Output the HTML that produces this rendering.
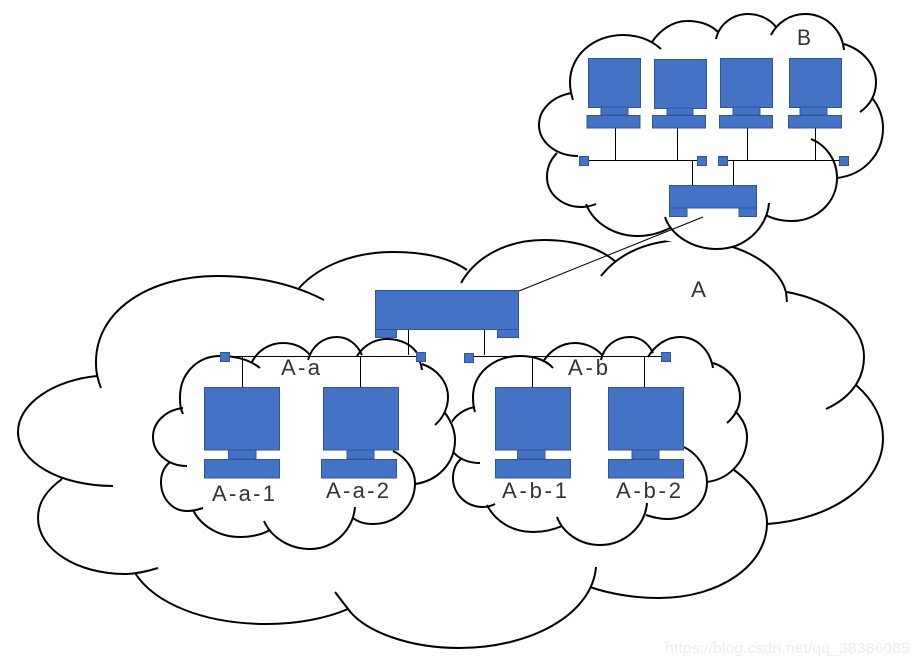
<!DOCTYPE html>
<html>
<head>
<meta charset="utf-8">
<style>
html,body{margin:0;padding:0;background:#fff;}
svg{display:block;}
.c{fill:#fff;stroke:#000;stroke-width:2;stroke-linecap:butt;}
.f{fill:#fff;stroke:none;}
.b{fill:#4472c4;stroke:#2f5597;stroke-width:1;}
.l{stroke:#000;stroke-width:1;fill:none;}
text{font-family:"Liberation Sans",sans-serif;font-size:22px;fill:#333;}
</style>
</head>
<body>
<svg width="918" height="666" viewBox="0 0 918 666" xmlns="http://www.w3.org/2000/svg">
<rect width="918" height="666" fill="#fff"/>

<!-- Cloud A -->
<polygon class="f" points="96,362 217,276 393,252 544,240 686,240 787,292 864,357 883,438 767,524 659,598 459,648 267,624 125,574 38,518 18,432"/>
<path class="c" d="M101,388 C96,375 96,368 96,362 C96,310 150,276 217,276 C260,276 295,285 324,300
M299,288 C320,265 355,252 393,252 C425,252 450,258 467,270
M461,283 C475,258 505,240 544,240 C575,240 600,248 616,262
M601,276 C620,252 650,240 686,240 C735,240 778,262 786,292 L787,302
M787,292 C830,300 864,325 864,357 C864,380 850,398 826,409
M856,385 C873,400 883,418 883,438 C883,485 830,520 767,524
M734,470 C755,485 767,505 767,523 C767,565 720,598 659,598 C635,598 610,594 590,587
M596,567 C592,615 530,648 459,648 C410,648 365,632 348,609 L335,592
M348,609 C325,619 295,624 267,624 C205,624 155,604 135,573
M158,568 C145,572 135,574 125,574 C78,574 38,550 38,518 C38,502 47,490 62,479
M113,486 C60,486 18,462 18,432 C18,403 55,380 97,376"/>

<!-- Cloud B -->
<polygon class="f" points="570,82 623,35 687,21 748,14 805,14 844,44 876,82 883,128 837,178 792,221 717,249 638,236 582,207 547,177 539,125"/>
<path class="c" d="M573,100 C571,94 570,88 570,82 C570,56 593,35 623,35 C638,35 651,40 661,49
M652,42 C660,30 673,21 687,21 C700,21 711,25 718,32
M716,39 C719,25 732,14 748,14 C759,14 770,19 776,27
M771,35 C777,23 790,14 805,14 C826,14 842,30 844,50
M844,44 C863,50 876,65 876,82 C876,95 870,105 860,112
M872,98 C879,106 883,117 883,128 C883,155 863,175 837,178
M811,139 C826,145 837,160 837,178 C837,202 817,221 792,221 C782,221 773,219 766,215
M769,203 C767,228 745,249 717,249 C692,249 671,235 665,217
M670,228 C660,233 649,236 638,236 C613,236 593,222 586,204
M596,204 C591,206 587,207 582,207 C562,207 547,194 547,177 C547,167 551,159 557,153
M578,156 C556,156 539,142 539,125 C539,109 553,96 572,93"/>

<!-- Cloud A-b -->
<polygon class="f" points="473,397 520,356 575,343 630,337 680,337 713,363 740,397 747,437 707,482 667,519 600,545 533,532 483,507 453,478 447,440"/>
<path class="c" d="M475,412 C473,406 473,401 473,397 C473,373 494,356 520,356 C534,356 546,360 553,368
M543,362 C550,350 562,343 575,343 C586,343 596,348 602,355
M601,360 C604,346 616,337 630,337 C640,337 648,343 653,353
M648,357 C655,345 667,337 680,337 C697,337 710,350 713,368
M713,363 C729,368 740,382 740,397 C740,407 735,416 727,423
M735,411 C742,418 747,427 747,437 C747,460 730,479 707,482
M684,447 C698,454 707,468 707,482 C707,503 689,519 667,519 C659,519 652,517 646,515
M647,503 C645,526 625,545 600,545 C580,545 563,533 557,517
M562,526 C553,530 543,532 533,532 C512,532 495,521 487,505
M495,504 C491,506 487,507 483,507 C466,507 453,494 453,478 C453,470 456,463 462,458
M480,463 C462,463 450,453 447,440 C445,425 458,410 475,407"/>

<!-- Cloud A-a -->
<polygon class="f" points="180,397 220,356 283,343 337,337 387,339 422,364 448,397 455,440 415,484 373,524 310,549 240,537 187,511 161,482 153,437"/>
<path class="c" d="M183,414 C180,408 180,402 180,397 C180,373 198,356 220,356 C236,356 250,360 260,368
M252,362 C258,350 270,343 283,343 C295,343 304,348 310,355
M308,360 C312,346 323,337 337,337 C348,337 357,344 362,355
M357,356 C364,345 375,339 387,339 C401,339 412,345 417,353 C419,358 421,364 422,370
M422,364 C437,369 448,382 448,397 C448,408 443,418 435,425
M445,413 C451,421 455,430 455,440 C455,464 437,481 415,484
M393,451 C406,457 415,470 415,483 C415,506 396,524 373,524 C365,524 358,522 353,518
M355,507 C353,530 334,549 310,549 C289,549 271,537 264,521
M270,530 C261,535 250,537 240,537 C219,537 201,526 193,510
M203,508 C197,510 192,511 187,511 C172,511 161,498 161,482 C161,474 164,467 170,462
M187,466 C168,466 153,453 153,437 C153,422 166,410 183,408"/>

<!-- Connector lines -->
<line class="l" x1="519" y1="291" x2="703" y2="217"/>

<!-- B network lines -->
<path class="l" d="M584,160.500H702M723,160.500H844M615.500,128V160M677.500,128V160M747.500,128V160M815.500,128V160M692.500,160V185M733.500,160V185"/>

<!-- A network lines -->
<path class="l" d="M225,356.500H421M469,356.500H666M408.500,329V355M484.500,329V355M242.500,356V387M360.500,356V387M532.500,356V387M644.500,356V387"/>

<!-- Computers B -->
<g class="b">
<rect x="588.500" y="58.500" width="52" height="49"/><rect x="601" y="107" width="27" height="8"/><rect x="587" y="115.500" width="53" height="12.500"/>
<rect x="654.500" y="59.500" width="52" height="49"/><rect x="667" y="108" width="26" height="7"/><rect x="652.500" y="115.500" width="53" height="12.500"/>
<rect x="720.500" y="58.500" width="52" height="49"/><rect x="733" y="107" width="27" height="8"/><rect x="719.500" y="115.500" width="53" height="12.500"/>
<rect x="789.500" y="58.500" width="52" height="49"/><rect x="800" y="107" width="27" height="8"/><rect x="788.500" y="115.500" width="53" height="12.500"/>
<!-- Switch B -->
<rect x="669.500" y="208" width="17.500" height="8.500"/><rect x="739" y="208" width="17.500" height="8.500"/><rect x="669.500" y="185.500" width="87" height="22.500"/>
<!-- Terminators B -->
<rect x="579.500" y="156.500" width="9" height="9"/><rect x="697.500" y="156.500" width="9" height="9"/><rect x="718.500" y="156.500" width="9" height="9"/><rect x="839.500" y="156.500" width="9" height="9"/>
<!-- Switch A -->
<rect x="375.500" y="329" width="21" height="8.500"/><rect x="497.500" y="329" width="21" height="8.500"/><rect x="375.500" y="290.500" width="143" height="39"/>
<!-- Terminators A -->
<rect x="220.500" y="352.500" width="9" height="9"/><rect x="416.500" y="352.500" width="9" height="9"/><rect x="464.500" y="353.500" width="9" height="9"/><rect x="661.500" y="352.500" width="9" height="9"/>
<!-- Computers A -->
<rect x="204.500" y="387.500" width="75" height="62.500"/><rect x="228.500" y="450" width="27.500" height="9"/><rect x="204.500" y="459.500" width="75" height="18.500"/>
<rect x="323.500" y="387.500" width="75" height="62.500"/><rect x="347" y="450" width="27" height="9"/><rect x="321.500" y="459.500" width="75" height="18.500"/>
<rect x="495.500" y="387.500" width="75" height="62.500"/><rect x="517.500" y="450" width="27.500" height="9"/><rect x="495.500" y="459.500" width="75" height="18.500"/>
<rect x="608.500" y="387.500" width="75" height="62.500"/><rect x="632" y="450" width="27" height="9"/><rect x="608.500" y="459.500" width="75" height="18.500"/>
</g>

<!-- Labels -->
<text x="691" y="297" textLength="15" lengthAdjust="spacingAndGlyphs">A</text>
<text x="797" y="45" textLength="14" lengthAdjust="spacingAndGlyphs">B</text>
<text x="281" y="375" textLength="39" lengthAdjust="spacing">A-a</text>
<text x="568" y="375" textLength="40" lengthAdjust="spacing">A-b</text>
<text x="212" y="501" textLength="63" lengthAdjust="spacing">A-a-1</text>
<text x="326" y="498" textLength="63" lengthAdjust="spacing">A-a-2</text>
<text x="502" y="498" textLength="65" lengthAdjust="spacing">A-b-1</text>
<text x="616" y="498" textLength="65" lengthAdjust="spacing">A-b-2</text>

<!-- Watermark -->
<text x="665" y="653" textLength="245" lengthAdjust="spacingAndGlyphs" style="font-size:15px;fill:#eeeeee;">https://blog.csdn.net/qq_38386085</text>
</svg>
</body>
</html>
